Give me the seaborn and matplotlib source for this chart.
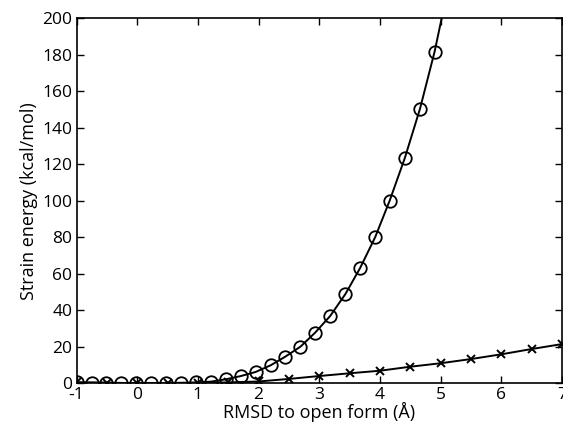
import matplotlib
matplotlib.use("Agg")
import matplotlib.pyplot as plt
import seaborn as sns

# circle series (strain energy, steep curve)
circle_x = [-1.0, -0.75, -0.51, -0.26, -0.02, 0.23, 0.47, 0.72, 0.97, 1.21,
            1.46, 1.71, 1.95, 2.20, 2.44, 2.69, 2.93, 3.18, 3.43, 3.67,
            3.92, 4.16, 4.41, 4.66, 4.90]
circle_y = [0.5, 0.4, 0.3, 0.2, 0.2, 0.2, 0.2, 0.3, 0.5, 0.9,
            2.2, 4.0, 6.2, 9.9, 14.6, 20.1, 27.7, 36.9, 48.9, 63.0,
            80.0, 100.1, 123.5, 150.5, 181.7]
# the fitted curve carries on past the last circle, out of the top
curve_x = circle_x + [5.15]
curve_y = circle_y + [221.0]

# cross series (shallow curve)
cross_x = [-1.0, -0.5, 0.0, 0.5, 1.0, 1.5, 2.0, 2.5, 3.0, 3.5,
           4.0, 4.5, 5.0, 5.5, 6.0, 6.5, 7.0]
cross_y = [0.5, 0.3, 0.1, 0.1, 0.2, 0.5, 1.0, 2.4, 4.0, 5.5,
           6.9, 9.1, 11.0, 13.3, 15.9, 18.8, 21.5]

xticks = [-1, 0, 1, 2, 3, 4, 5, 6, 7]
yticks = [0, 20, 40, 60, 80, 100, 120, 140, 160, 180, 200]

sns.set_style("ticks", {"text.color": "black", "axes.labelcolor": "black",
                        "xtick.color": "black", "ytick.color": "black",
                        "axes.edgecolor": "black"})
plt.rcParams["font.family"] = ["Open Sans", "DejaVu Sans"]

fig = plt.figure(figsize=(5.63, 4.28), dpi=100)
ax = fig.add_axes([0.1359, 0.1044, 0.8624, 0.8528])

sns.lineplot(x=curve_x, y=curve_y, ax=ax, color="black", linewidth=1.4,
             estimator=None, sort=False)
sns.lineplot(x=circle_x, y=circle_y, ax=ax, color="black", linestyle="none",
             marker="o", markersize=9, markerfacecolor="none",
             markeredgecolor="black", markeredgewidth=1.3, estimator=None)
sns.lineplot(x=cross_x, y=cross_y, ax=ax, color="black", linewidth=1.4,
             marker="x", markersize=6, markeredgecolor="black",
             markeredgewidth=1.4, estimator=None)

ax.set_xlim(-1, 7)
ax.set_ylim(0, 200)
ax.set_xticks(xticks)
ax.set_yticks(yticks)
ax.set_xticklabels([str(t) for t in xticks])
ax.set_yticklabels([str(t) for t in yticks])

ax.tick_params(direction="in", length=5, width=1, top=True, right=True,
               labelsize=12.5, pad=3, colors="black")
for s in ax.spines.values():
    s.set_visible(True)
    s.set_linewidth(1.2)
    s.set_color("black")

ax.set_xlabel("RMSD to open form (Å)", fontsize=13, labelpad=-1, color="black")
ax.set_ylabel("Strain energy (kcal/mol)", fontsize=13, labelpad=3, color="black")

fig.savefig("out.png", dpi=100)
